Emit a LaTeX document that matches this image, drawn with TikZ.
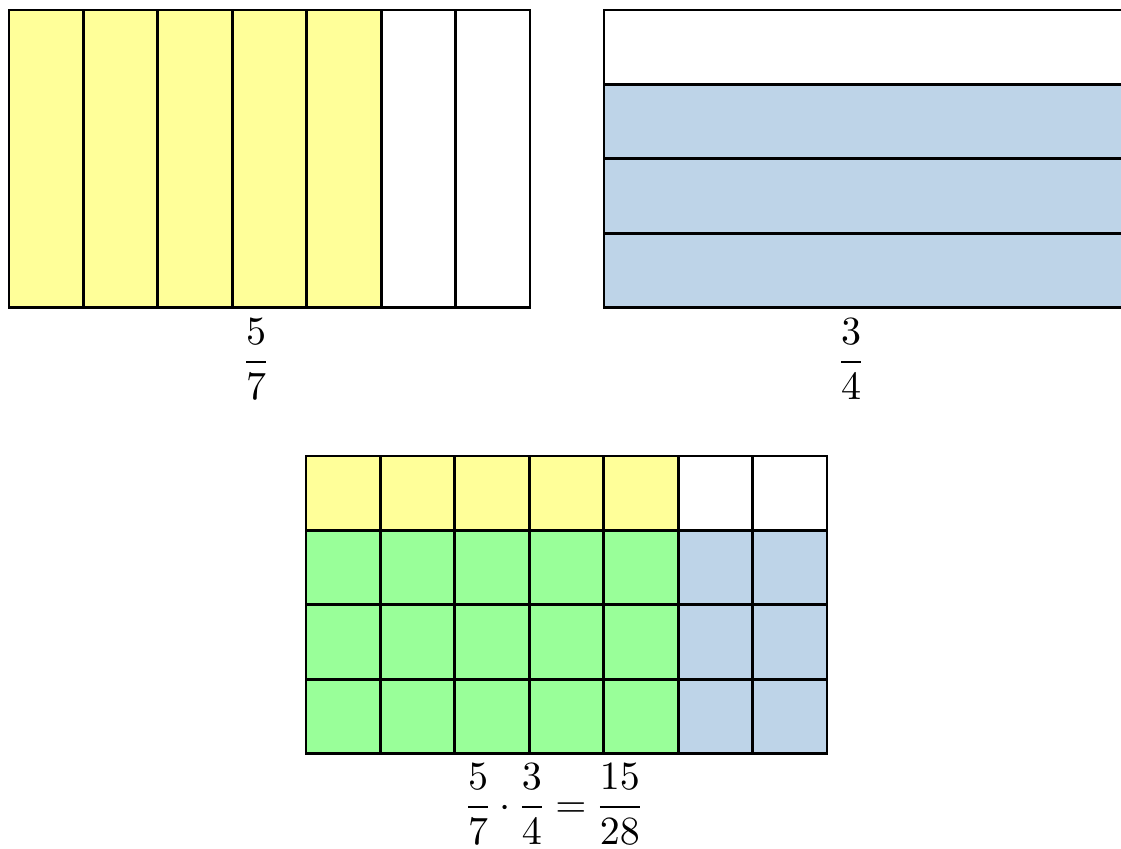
\documentclass[tikz,border=0pt]{standalone}
\usepackage{amsmath}
\definecolor{yel}{RGB}{255,255,153}
\definecolor{grn}{RGB}{153,255,153}
\definecolor{blu}{RGB}{190,212,232}
\tikzset{
  grid line/.style={line width=0.7pt, black},
  frac label/.style={anchor=base, inner sep=0pt}
}
\begin{document}
\begin{tikzpicture}[x=0.25pt,y=-0.25pt]
\useasboundingbox (0,0) rectangle (1121,848);
\clip (0,0) rectangle (1121,848);
\def\c{74.43}
% left: 5/7
\begin{scope}[shift={(9,10)}]
  \fill[yel] (0,0) rectangle (5*\c,4*\c);
  \foreach \i in {1,...,6} \draw[grid line] (\i*\c,0) -- (\i*\c,4*\c);
  \draw[grid line] (0,0) rectangle (7*\c,4*\c);
\end{scope}
% right: 3/4
\begin{scope}[shift={(604,10)}]
  \fill[blu] (0,\c) rectangle (7*\c,4*\c);
  \foreach \j in {1,...,3} \draw[grid line] (0,\j*\c) -- (7*\c,\j*\c);
  \draw[grid line] (0,0) rectangle (7*\c,4*\c);
\end{scope}
% bottom: product
\begin{scope}[shift={(306,456)}]
  \fill[yel] (0,0) rectangle (5*\c,\c);
  \fill[grn] (0,\c) rectangle (5*\c,4*\c);
  \fill[blu] (5*\c,\c) rectangle (7*\c,4*\c);
  \foreach \i in {1,...,6} \draw[grid line] (\i*\c,0) -- (\i*\c,4*\c);
  \foreach \j in {1,...,3} \draw[grid line] (0,\j*\c) -- (7*\c,\j*\c);
  \draw[grid line] (0,0) rectangle (7*\c,4*\c);
\end{scope}
\node[frac label] (fa) at (256,372) {$\displaystyle\frac{5}{7}$};
\node[frac label] (fb) at (851,372) {$\displaystyle\frac{3}{4}$};
\node[frac label] (fc) at (554,817) {\nulldelimiterspace=0.6pt$\displaystyle\frac{5}{7}\cdot\frac{3}{4}=\frac{15}{28}$};
\end{tikzpicture}
\end{document}
